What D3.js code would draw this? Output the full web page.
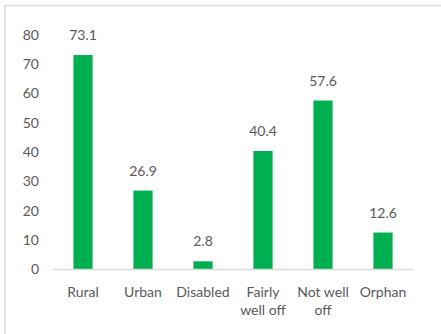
<!DOCTYPE html>
<html>
<head>
<meta charset="utf-8">
<script src="https://cdn.jsdelivr.net/npm/d3@7"></script>
<style>
  html, body { margin: 0; padding: 0; background: #fff; }
  svg { display: block; }
  text { font-family: Lato, "Open Sans", sans-serif; fill: #595959; }
</style>
</head>
<body>
<svg id="chart" width="441" height="334"></svg>
<script>
const categories = ["Rural", "Urban", "Disabled", "Fairly well off", "Not well off", "Orphan"];
const values = [73.1, 26.9, 2.8, 40.4, 57.6, 12.6];
const yTicks = [0, 10, 20, 30, 40, 50, 60, 70, 80];

const svg = d3.select("#chart");
const W = 441, H = 334;

// chart area frame
svg.append("path")
  .attr("d", `M5,${H + 2} V5.5 H${W + 2}`)
  .attr("fill", "none")
  .attr("stroke", "#d9d9d9")
  .attr("stroke-width", 1.5);

const x = d3.scaleBand().domain(categories).range([53, 413]).paddingInner(0.68).paddingOuter(0.34);
const y = d3.scaleLinear().domain([0, 80]).range([269.5, 34.8]);

// y axis labels (no line, no ticks)
const yAxis = svg.append("g")
  .attr("transform", "translate(39,0)")
  .call(d3.axisLeft(y).tickValues(yTicks).tickSize(0).tickPadding(0).tickFormat(d3.format("d")));
yAxis.select(".domain").remove();
yAxis.selectAll("text")
  .attr("font-family", "Lato, 'Open Sans', sans-serif")
  .attr("font-size", 14)
  .attr("fill", "#595959");

// bars
svg.append("g").selectAll("rect")
  .data(values)
  .join("rect")
  .attr("x", (d, i) => x(categories[i]))
  .attr("width", x.bandwidth())
  .attr("y", d => y(d))
  .attr("height", d => y(0) - y(d))
  .attr("fill", "#00b050");

// value labels
svg.append("g").selectAll("text")
  .data(values)
  .join("text")
  .attr("x", (d, i) => x(categories[i]) + x.bandwidth() / 2)
  .attr("y", d => y(d) - 15)
  .attr("text-anchor", "middle")
  .attr("font-size", 14)
  .text(d => d3.format(".1f")(d));

// x axis baseline
svg.append("line")
  .attr("x1", 53).attr("x2", 413)
  .attr("y1", y(0)).attr("y2", y(0))
  .attr("stroke", "#d9d9d9")
  .attr("stroke-width", 1.5);

// category labels wrapped to the band width
const bandStep = x.step();
const labels = svg.append("g").selectAll("text")
  .data(categories)
  .join("text")
  .attr("x", d => x(d) + x.bandwidth() / 2)
  .attr("y", 297)
  .attr("text-anchor", "middle")
  .attr("font-size", 14);

labels.each(function(d) {
  const t = d3.select(this);
  const words = d.split(" ");
  const lines = [];
  let line = [];
  const probe = t.append("tspan");
  words.forEach(w => {
    const trial = line.concat([w]).join(" ");
    probe.text(trial);
    if (line.length && probe.node().getComputedTextLength() > bandStep) {
      lines.push(line.join(" "));
      line = [w];
    } else {
      line.push(w);
    }
  });
  lines.push(line.join(" "));
  probe.remove();
  lines.forEach((l, i) => {
    t.append("tspan")
      .attr("x", t.attr("x"))
      .attr("dy", i === 0 ? 0 : 18)
      .text(l);
  });
});
</script>
</body>
</html>
